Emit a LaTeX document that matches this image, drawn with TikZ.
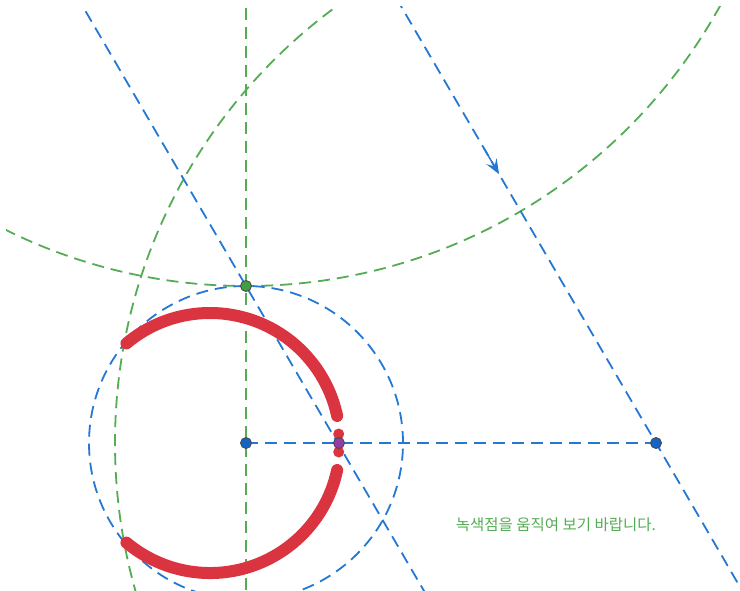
\documentclass[tikz,border=0pt]{standalone}
\usepackage{fontspec}
\newfontfamily\krfont{Noto Sans CJK KR}
\usetikzlibrary{arrows.meta,calc}
\definecolor{gblue}{RGB}{36,120,212}
\definecolor{ggreen}{RGB}{84,172,84}
\definecolor{gred}{RGB}{218,52,64}
\definecolor{ptgreen}{RGB}{66,158,66}
\definecolor{ptblue}{RGB}{20,100,200}
\definecolor{ptpurple}{RGB}{150,60,165}
\begin{document}
\begin{tikzpicture}[x=1pt,y=-1pt,
  bluedash/.style={gblue, line width=1.8pt, dash pattern=on 12pt off 7pt},
  greendash/.style={ggreen, line width=1.8pt, dash pattern=on 12pt off 7pt},
  locus/.style={gred, line width=12pt, line cap=round},
  ptmark/.style={circle, draw=black!70, line width=0.9pt, inner sep=0pt, minimum size=11pt}]
\useasboundingbox (0,0) rectangle (740,590);
\coordinate (O) at (246,443);
\coordinate (P) at (246,286);
\coordinate (A) at (656,443);
\coordinate (M) at (339,443);
\coordinate (C) at (210,443);
\coordinate (G) at (246,-255);
\begin{scope}
\clip (6,6) rectangle (738,590);
\draw[greendash] (246,8) -- (246,590);
\draw[greendash] (A) circle[radius=541pt];
\draw[greendash] (G) circle[radius=541pt];
\draw[bluedash] (O) circle[radius=157pt];
\draw[bluedash] (O) -- (A);
\draw[bluedash] ($(P)+(-170,-291.2)$) -- ($(P)+(180,308.3)$);
\draw[bluedash] ($(A)+(-260,-445.4)$) -- ($(A)+(90,154.2)$);
\end{scope}
\draw[gblue, line width=1.5pt, -{Stealth[length=15pt, width=12pt, inset=6pt]}]
  ($(A)+(-172,-294.6)$) -- ($(A)+(-157,-268.9)$);
% locus
\draw[locus] (C) ++(130:130pt) arc[start angle=130, end angle=12, radius=130pt];
\draw[locus] (C) ++(-12:130pt) arc[start angle=-12, end angle=-130, radius=130pt];
\fill[gred] (C) ++(4:129pt) circle[radius=5.5pt];
\fill[gred] (C) ++(-4:129pt) circle[radius=5.5pt];
% points
\node[ptmark, fill=ptgreen] (Pn) at (P) {};
\node[ptmark, fill=ptblue] (On) at (O) {};
\node[ptmark, fill=ptblue] (An) at (A) {};
\node[ptmark, fill=ptpurple] (Mn) at (M) {};
\node[text=ggreen, font=\krfont\fontsize{15.5}{18}\selectfont] (msg) at (556,525) {녹색점을 움직여 보기 바랍니다.};
\end{tikzpicture}
\end{document}
